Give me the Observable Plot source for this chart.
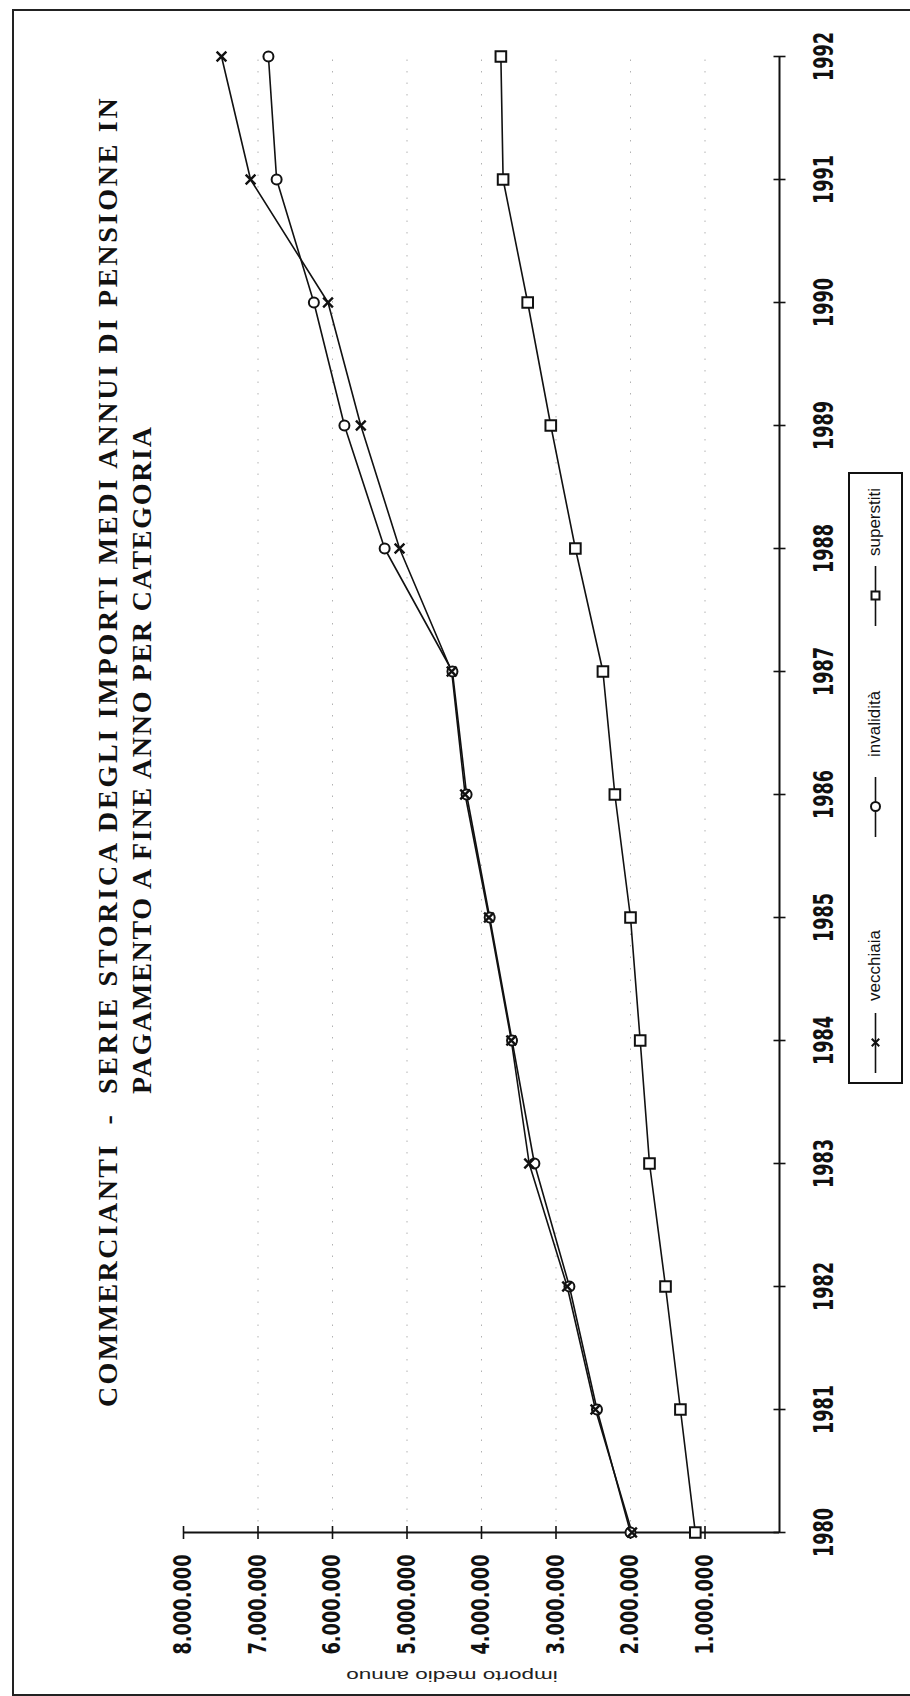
<!DOCTYPE html>
<html>
<head>
<meta charset="utf-8">
<script src="https://cdn.jsdelivr.net/npm/d3@7"></script>
<script src="https://cdn.jsdelivr.net/npm/@observablehq/plot@0.6"></script>
<style>
  html, body { margin: 0; padding: 0; background: #fff; }
  #page { position: relative; width: 910px; height: 1696px; overflow: hidden; background: #fff; }
  #border { position: absolute; left: 12px; top: 9px; width: 910px; height: 1683px;
            border-left: 2px solid #222; border-top: 2px solid #222; border-bottom: 2px solid #222; }
  #land { position: absolute; left: 0; top: 0; width: 1696px; height: 910px;
          transform-origin: 0 0; transform: translate(0, 1696px) rotate(-90deg); }
  #chart { position: absolute; left: 0; top: 0; }
  #title { position: absolute; left: 289px; top: 91px; display: flex;
           font-family: "Liberation Serif", "Times New Roman", serif; font-weight: bold;
           font-size: 28px; letter-spacing: 2.4px; line-height: 34px; color: #111; white-space: nowrap; }
  #title .l1 { letter-spacing: 2.75px; }
  #title .l2 { letter-spacing: 1.7px; }
  #ylab { position: absolute; left: 20px; top: 452px; width: 0; height: 0; }
  #ylab span { position: absolute; left: 0; top: 0; white-space: nowrap;
               font-family: "Liberation Sans", Arial, sans-serif; font-size: 15px; color: #222;
               transform: translate(-50%, -50%) rotate(-90deg) scaleX(1.5); }
  #legend { position: absolute; left: 612px; top: 848px; width: 612px; height: 55px; box-sizing: border-box;
            border: 2px solid #111;
            font-family: "Liberation Sans", Arial, sans-serif; font-size: 17px; color: #111; }
  #legend .sw { position: absolute; top: 15px; }
  #legend .lab { position: absolute; top: 14px; white-space: nowrap; line-height: 22px; }
</style>
</head>
<body>
<div id="page">
  <div id="border"></div>
  <div id="land">
    <div id="chart"></div>
    <div id="title">
      <div>COMMERCIANTI&nbsp;&nbsp;-&nbsp;&nbsp;</div>
      <div><div class="l1">SERIE STORICA DEGLI IMPORTI MEDI ANNUI DI PENSIONE IN</div><div class="l2">PAGAMENTO A FINE ANNO PER CATEGORIA</div></div>
    </div>
    <div id="ylab"><span>importo medio annuo</span></div>
    <div id="legend"></div>
  </div>
</div>
<script>
// ---- data ----
const years = [1980, 1981, 1982, 1983, 1984, 1985, 1986, 1987, 1988, 1989, 1990, 1991, 1992];
const vecchiaia   = [1980000, 2470000, 2850000, 3360000, 3600000, 3900000, 4220000, 4400000, 5100000, 5620000, 6060000, 7100000, 7490000];
const invalidita  = [2000000, 2450000, 2820000, 3290000, 3590000, 3890000, 4200000, 4390000, 5300000, 5840000, 6250000, 6750000, 6860000];
const superstiti  = [1130000, 1330000, 1530000, 1745000, 1870000, 2000000, 2210000, 2370000, 2740000, 3070000, 3380000, 3710000, 3740000];
const valueTicks  = [1000000, 2000000, 3000000, 4000000, 5000000, 6000000, 7000000, 8000000];
const seriesNames = ["vecchiaia", "invalidità", "superstiti"];

const rows = (vals) => years.map((y, i) => ({year: y, value: vals[i]}));
const dV = rows(vecchiaia), dI = rows(invalidita), dS = rows(superstiti);

const it = d3.formatLocale({decimal: ",", thousands: ".", grouping: [3], currency: ["", ""]});
const fmt = it.format(",d");

const vLine = {draw(ctx, size) { const r = Math.sqrt(size / Math.PI); ctx.moveTo(0, -r); ctx.lineTo(0, r); }};
const hLine = {draw(ctx, size) { const r = Math.sqrt(size / Math.PI); ctx.moveTo(-r, 0); ctx.lineTo(r, 0); }};

const tickFont = "'DejaVu Sans', sans-serif";
const ink = "#111";

const chart = Plot.plot({
  width: 1696,
  height: 910,
  marginLeft: 163,
  marginRight: 57,
  marginTop: 183,
  marginBottom: 131,
  style: {background: "transparent", overflow: "visible"},
  x: {domain: [1980, 1992]},
  y: {domain: [0, 8000000]},
  marks: [
    Plot.gridY(valueTicks.slice(0, 7), {stroke: "#555", strokeOpacity: 0.45, strokeDasharray: "1.5,10"}),
    Plot.ruleY([0], {stroke: ink, strokeWidth: 2}),
    Plot.ruleX([1980], {stroke: ink, strokeWidth: 2}),
    Plot.dot(years, {x: d => d, y: () => 0, symbol: vLine, r: 6, stroke: ink, strokeWidth: 1.6}),
    Plot.dot(valueTicks, {x: () => 1980, y: d => d, symbol: hLine, r: 6.5, stroke: ink, strokeWidth: 1.6}),
    Plot.axisX({ticks: years, tickSize: 0, tickPadding: 35, tickFormat: d => String(d), label: null,
                fontSize: 26, fontWeight: "bold", fontFamily: tickFont, fill: ink}),
    Plot.axisY({ticks: valueTicks, tickSize: 0, tickPadding: 22, tickFormat: fmt, label: null,
                fontSize: 24, fontWeight: "bold", fontFamily: tickFont, fill: ink}),
    Plot.line(dS, {x: "year", y: "value", stroke: ink, strokeWidth: 1.6}),
    Plot.line(dI, {x: "year", y: "value", stroke: ink, strokeWidth: 1.6}),
    Plot.line(dV, {x: "year", y: "value", stroke: ink, strokeWidth: 1.6}),
    Plot.dot(dS, {x: "year", y: "value", symbol: "square", r: 6, fill: "white", stroke: ink, strokeWidth: 2}),
    Plot.dot(dI, {x: "year", y: "value", symbol: "circle", r: 5, fill: "white", stroke: ink, strokeWidth: 2}),
    Plot.dot(dV, {x: "year", y: "value", symbol: "times", r: 4.5, stroke: ink, strokeWidth: 2.4})
  ]
});
document.getElementById("chart").appendChild(chart);

// condense the tick labels (narrow typeface look)
function condense(sel, s) {
  d3.select(chart).selectAll(sel).each(function() {
    const t = this.getAttribute("transform");
    if (t) {
      this.setAttribute("transform", t + ` scale(${s},1)`);
    } else {
      const x = +(this.getAttribute("x") || 0), y = +(this.getAttribute("y") || 0);
      this.setAttribute("transform", `translate(${x},${y}) scale(${s},1) translate(${-x},${-y})`);
    }
  });
}
condense('g[aria-label="x-axis tick label"] text', 0.68);
condense('g[aria-label="y-axis tick label"] text', 0.74);

// ---- legend ----
const legend = document.getElementById("legend");
const symbols = ["times", "circle", "square"];
const swLeft = [9, 245, 456];      // swatch positions inside the box
const labLeft = [81, 325, 526];    // label positions inside the box
seriesNames.forEach((name, i) => {
  const sw = Plot.plot({
    width: 60, height: 20, margin: 0,
    x: {domain: [0, 1], axis: null}, y: {domain: [0, 1], axis: null},
    style: {background: "transparent", overflow: "visible"},
    marks: [
      Plot.ruleY([0.5], {stroke: ink, strokeWidth: 1.6}),
      Plot.dot([0.5], {x: d => d, y: () => 0.5, symbol: symbols[i], r: i === 0 ? 3.5 : 4.5,
                       fill: i === 0 ? "none" : "white", stroke: ink, strokeWidth: 2})
    ]
  });
  sw.classList.add("sw");
  sw.style.left = swLeft[i] + "px";
  legend.appendChild(sw);
  const t = document.createElement("span");
  t.className = "lab";
  t.style.left = labLeft[i] + "px";
  t.textContent = name;
  legend.appendChild(t);
});
</script>
</body>
</html>
